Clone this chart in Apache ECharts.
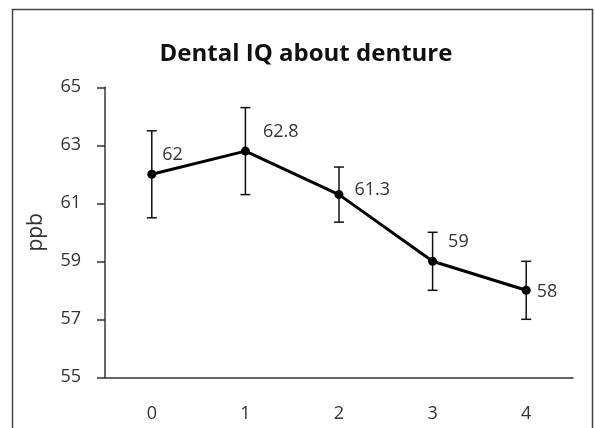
<!DOCTYPE html>
<html>
<head>
<meta charset="utf-8">
<script src="https://cdn.jsdelivr.net/npm/echarts@6/dist/echarts.min.js"></script>
<style>html,body{margin:0;padding:0;background:#fff}#c{width:595px;height:428px}</style>
</head>
<body>
<div id="c"></div>
<script>
var categories = ['0', '1', '2', '3', '4'];
var means = [62, 62.8, 61.3, 59, 58];
var errLow = [60.5, 61.3, 60.35, 58, 57];
var errHigh = [63.5, 64.3, 62.25, 60, 59];
var yTicks = [55, 57, 59, 61, 63, 65];

var labelOffsets = [[1, -19], [8, -19], [6, -5], [6, -19], [1, 2]];
var FONT = 'Open Sans';

var chart = echarts.init(document.getElementById('c'), null, {renderer: 'canvas'});

var errData = categories.map(function (c, i) { return [i, errLow[i], errHigh[i]]; });
var lineData = means.map(function (v, i) {
  return {
    value: v,
    label: { offset: labelOffsets[i] }
  };
});

var option = {
  backgroundColor: '#ffffff',
  animation: false,
  title: {
    text: 'Dental IQ about denture',
    left: 301,
    textAlign: 'center',
    top: 37,
    textStyle: { fontFamily: FONT, fontWeight: 'bold', fontSize: 24, color: '#111' }
  },
  graphic: [{
    type: 'rect',
    shape: { x: 12.5, y: 9.5, width: 580, height: 440 },
    style: { fill: 'none', stroke: '#444', lineWidth: 1.5 },
    silent: true
  }],
  grid: { left: 105, right: 22, top: 87.3, bottom: 50.7, containLabel: false },
  xAxis: {
    type: 'category',
    data: categories,
    boundaryGap: true,
    axisLine: { show: true, lineStyle: { color: '#333', width: 1.5 } },
    axisTick: { show: false },
    axisLabel: { margin: 28, fontFamily: FONT, fontSize: 18, color: '#333' },
    splitLine: { show: false }
  },
  yAxis: {
    type: 'value',
    min: yTicks[0],
    max: yTicks[yTicks.length - 1],
    interval: 2,
    name: 'ppb',
    nameLocation: 'middle',
    nameGap: 58,
    nameRotate: 90,
    nameTextStyle: { fontFamily: FONT, fontSize: 21, color: '#333' },
    axisLine: { show: true, lineStyle: { color: '#333', width: 1.5 } },
    axisTick: { show: true, inside: false, length: 8, lineStyle: { color: '#333', width: 1.5 } },
    axisLabel: { margin: 24, fontFamily: FONT, fontSize: 18, color: '#333' },
    splitLine: { show: false }
  },
  series: [
    {
      type: 'custom',
      data: errData,
      z: 3,
      renderItem: function (params, api) {
        var x = api.value(0);
        var lo = api.coord([x, api.value(1)]);
        var hi = api.coord([x, api.value(2)]);
        var hw = 5;
        var st = { stroke: '#111', lineWidth: 1.5, fill: 'none' };
        return {
          type: 'group',
          children: [
            { type: 'line', shape: { x1: lo[0], y1: lo[1], x2: hi[0], y2: hi[1] }, style: st },
            { type: 'line', shape: { x1: lo[0] - hw, y1: lo[1], x2: lo[0] + hw, y2: lo[1] }, style: st },
            { type: 'line', shape: { x1: hi[0] - hw, y1: hi[1], x2: hi[0] + hw, y2: hi[1] }, style: st }
          ]
        };
      }
    },
    {
      type: 'line',
      data: lineData,
      z: 4,
      symbol: 'circle',
      symbolSize: 9,
      lineStyle: { color: '#000', width: 3 },
      itemStyle: { color: '#000' },
      label: {
        show: true,
        position: 'right',
        distance: 5,
        fontFamily: FONT,
        fontSize: 18,
        color: '#333'
      }
    }
  ]
};
chart.setOption(option);
</script>
</body>
</html>
